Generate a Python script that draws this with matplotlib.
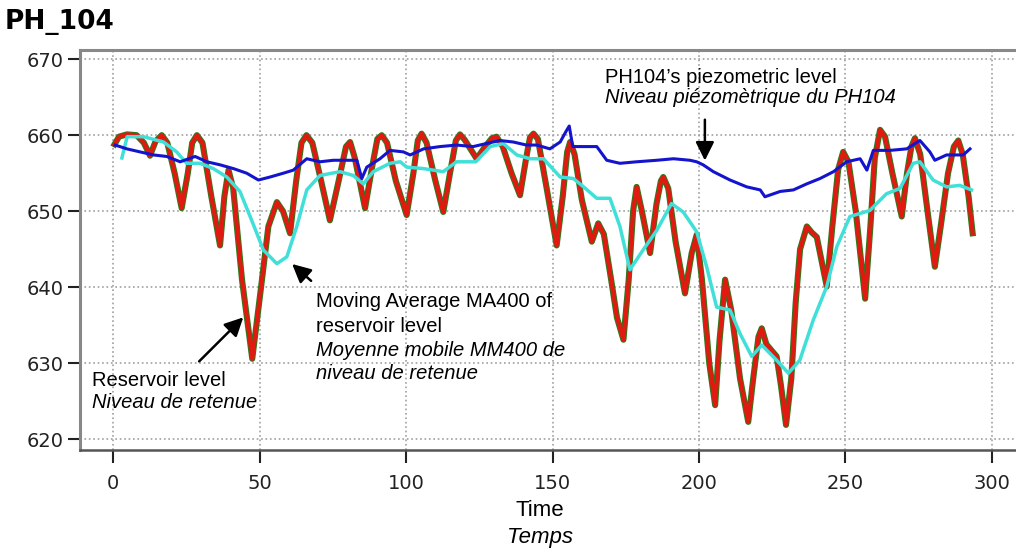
import matplotlib
matplotlib.use('Agg')
import matplotlib.pyplot as plt

# Reservoir level
res_t = [0.5, 2, 4.7, 8, 10.5, 12.6, 14.5, 16.6, 18.5, 21, 23.4, 25.5, 27, 28.6, 30.5,
         33.5, 36.5, 38, 39.4, 41, 44, 47.5, 50.5, 53, 55.9, 58, 60.4, 62.5, 64.3, 66,
         68, 71, 74, 77, 79.5, 80.9, 82.5, 86, 88.5, 90.2, 91.7, 93.5, 96.5, 100.2,
         102.5, 104, 105.3, 107, 110, 112.7, 115, 117, 118.4, 120, 124.1, 127, 129.3,
         130.9, 133, 136, 138.9, 141, 142.3, 143.5, 145, 148, 151.4, 153.5, 155, 156,
         157.5, 160, 163.4, 165.6, 167.5, 170, 172, 174.2, 176, 177.5, 178.7, 180.5,
         183.3, 185.5, 187, 187.8, 189.5, 192, 195.2, 197.5, 199.2, 201, 203.5, 205.5,
         207, 208.9, 211, 214, 216.8, 218.5, 220.3, 221.4, 223, 226.5, 228, 229.7,
         231.5, 233, 234.5, 236.8, 238.5, 240.2, 243.6, 245.5, 247.5, 249.2, 251,
         253.5, 256.7, 258.5, 260, 261.8, 263.5, 266, 269.2, 271, 272.5, 273.7, 275.5,
         278, 280.5, 282.5, 285, 287, 288.5, 290, 292, 293.4]
res_v = [658.8, 659.8, 660.1, 660, 659, 657.3, 659.2, 660, 659, 655, 650.4, 655, 659, 660, 659,
         652, 645.5, 652, 655.4, 653, 641, 630.6, 640, 648, 651.2, 650, 647.1, 654, 659, 660,
         659, 654, 648.8, 654, 658.5, 659.1, 657, 650.4, 656, 659.5, 660, 659, 654, 649.5,
         655, 659.3, 660.2, 659, 654, 649.9, 655, 659.3, 660.1, 659.4, 656.9, 658.5, 659.6,
         659.8, 658.5, 655, 652.1, 657, 659.7, 660.2, 659.5, 653, 645.5, 652, 657.8, 659.1,
         657.5, 651.5, 646, 648.4, 647, 641, 636, 633.1, 641, 650, 653.2, 650,
         644.5, 651, 654, 654.5, 653, 646, 639.2, 644.5, 646.9, 641, 630, 624.5,
         633, 641, 637, 628, 622.3, 628, 633.5, 634.6, 632.5, 630.9, 627, 621.9,
         628, 638, 645, 648, 647.2, 646.6, 640.1, 648, 655.5, 657.8, 656.5,
         650, 638.5, 648, 657, 660.7, 659.8, 655, 649.3, 655, 658.5, 659.6, 657.5,
         650, 642.7, 648, 655, 658.5, 659.3, 657.5, 652, 647.1]

# Moving average MA400
ma_t = [3, 4.8, 10.4, 17.2, 21.7, 25.1, 29.7, 34.2, 38.8, 43.3, 47.3, 51.3, 55.9, 59.3,
        62.7, 66.1, 70.6, 77.5, 82, 85.4, 88.8, 94.5, 98, 100.2, 106, 112.7, 117.2, 123.8,
        128.7, 133.2, 137.8, 142.3, 146.9, 152.6, 157.1, 160.6, 165.1, 169.6, 173, 176.4,
        180.9, 185.6, 190.6, 194.6, 199.2, 202.6, 206, 210.6, 214, 218, 221.4, 226.5,
        230.5, 234.4, 239, 243.6, 247, 251.5, 258.3, 264, 268.6, 273.1, 275.4, 279.9,
        284.5, 289, 293]
ma_v = [657.0, 659.8, 659.8, 659.1, 657.8, 656.3, 656.3, 655.6, 654.5, 652.6, 648.8, 644.9,
        643.1, 644, 648, 652.8, 654.7, 655.2, 654.7, 653.6, 655.2, 656.3, 656.5, 655.8,
        655.6, 655.2, 656.5, 656.5, 658.5, 658.9, 657.4, 656.9, 656.9, 654.5, 654.3, 653.2,
        651.7, 651.7, 648, 642.3, 644.9, 647.5, 651, 649.9, 647.3, 642.7, 637.4, 637,
        633.9, 630.9, 632.4, 630.4, 628.7, 630.4, 635.7, 640.1, 645.3, 649.3, 650.1,
        652.3, 653, 656.3, 656.5, 654.1, 653.2, 653.4, 652.8]

# PH104 piezometric level
piezo_t = [0.7, 4.7, 9.2, 13.8, 18.3, 22.9, 28, 32, 36.5, 41.1, 45.6, 49.6, 53.6, 58.1,
           61.5, 66.1, 70.6, 75.2, 79.7, 83.2, 84.9, 86.6, 91.1, 94.5, 99.1, 101.4, 106,
           111.6, 117.2, 122.9, 127.4, 132, 136.6, 141.1, 144.6, 149.1, 152.6, 154.9,
           155.7, 156.9, 160.6, 165.1, 168.5, 173, 178.7, 185.6, 191.3, 196.9, 199.2,
           201.4, 204.9, 210.6, 216.3, 220.9, 222.5, 227.7, 232.2, 236.8, 241.3, 245.9,
           250.4, 255, 257.3, 259.5, 265.2, 270.9, 275.4, 278.8, 280.5, 284.5, 290.2, 292.5]
piezo_v = [658.7, 658.2, 657.8, 657.4, 657.2, 656.5, 657.2, 656.5, 656.1, 655.6, 655, 654.1,
           654.5, 655, 655.4, 656.9, 656.5, 656.7, 656.7, 656.7, 654.3, 655.8, 656.9, 658,
           657.8, 657.4, 658.2, 658.5, 658.7, 658.5, 658.9, 659.3, 659.1, 658.7, 658.7,
           658.2, 659.1, 660.7, 661.2, 658.5, 658.5, 658.5, 656.7, 656.3, 656.5, 656.7,
           656.9, 656.7, 656.5, 656.1, 655.2, 654.1, 653.2, 652.8, 651.9, 652.6, 652.8,
           653.6, 654.3, 655.2, 656.5, 656.9, 655.4, 658, 658, 658.2, 659.3, 657.8, 656.7,
           657.4, 657.4, 658.2]

xticks = [0, 50, 100, 150, 200, 250, 300]
yticks = [620, 630, 640, 650, 660, 670]

fig = plt.figure(figsize=(10.16, 5.54), dpi=100)
ax = fig.add_axes([80/1016, 1 - 450/554, 1 - 80/1016, 400/554])
ax.set_xlim(-11.3, 308.2)
ax.set_ylim(618.6, 671.2)

ax.grid(True, color='#a0a0a0', ls=':', lw=1.2)
ax.set_axisbelow(True)

ax.plot(res_t, res_v, color='#2b7a1c', lw=4.4, zorder=3)
ax.plot(res_t, res_v, color='#e01a10', lw=3.0, zorder=4)
ax.plot(ma_t, ma_v, color='#40e0d8', lw=2.5, zorder=5)
ax.plot(piezo_t, piezo_v, color='#1414cc', lw=2.2, zorder=6)

ax.set_xticks(xticks)
ax.set_yticks(yticks)
ax.tick_params(axis='x', direction='out', length=9, width=1.5, pad=8, labelsize=14, colors='#222222')
ax.tick_params(axis='y', direction='out', length=9, width=1.5, pad=3, labelsize=14, colors='#222222')

for side in ['left', 'top']:
    ax.spines[side].set_color('#888888')
    ax.spines[side].set_linewidth(2.2)
ax.spines['bottom'].set_color('#555555')
ax.spines['bottom'].set_linewidth(1.8)
ax.spines['right'].set_visible(False)

fig.text(5/1016, 1 - 22/554, 'PH_104', fontsize=19, fontweight='bold', va='center', ha='left')

lab = dict(fontsize=14.5, family='Liberation Sans', va='center', ha='left', color='k')
arr = dict(arrowstyle='-|>', color='k', lw=1.8, mutation_scale=28)

# piezometric level label
ax.text(167.9, 667.6, 'PH104\u2019s piezometric level', **lab)
ax.text(167.9, 664.9, 'Niveau pi\u00e9zom\u00e8trique du PH104', style='italic', **lab)
ax.annotate('', xy=(202, 656.3), xytext=(202, 662.4), arrowprops=arr)

# moving average label
ax.text(69.3, 638.1, 'Moving Average MA400 of', **lab)
ax.text(69.3, 634.9, 'reservoir level', **lab)
ax.text(69.3, 631.7, 'Moyenne mobile MM400 de', style='italic', **lab)
ax.text(69.3, 628.6, 'niveau de retenue', style='italic', **lab)
ax.annotate('', xy=(60.4, 643.3), xytext=(68.3, 640.6), arrowprops=arr)

# reservoir label
ax.text(-7.2, 627.8, 'Reservoir level', **lab)
ax.text(-7.2, 624.8, 'Niveau de retenue', style='italic', **lab)
ax.annotate('', xy=(45.1, 636.3), xytext=(28.7, 630.0), arrowprops=arr)

fig.text(540/1016, 1 - 510/554, 'Time', fontsize=16, family='Liberation Sans', ha='center', va='center')
fig.text(540/1016, 1 - 538/554, 'Temps', fontsize=16, family='Liberation Sans', style='italic',
         ha='center', va='center')

fig.savefig('out.png', dpi=100)
